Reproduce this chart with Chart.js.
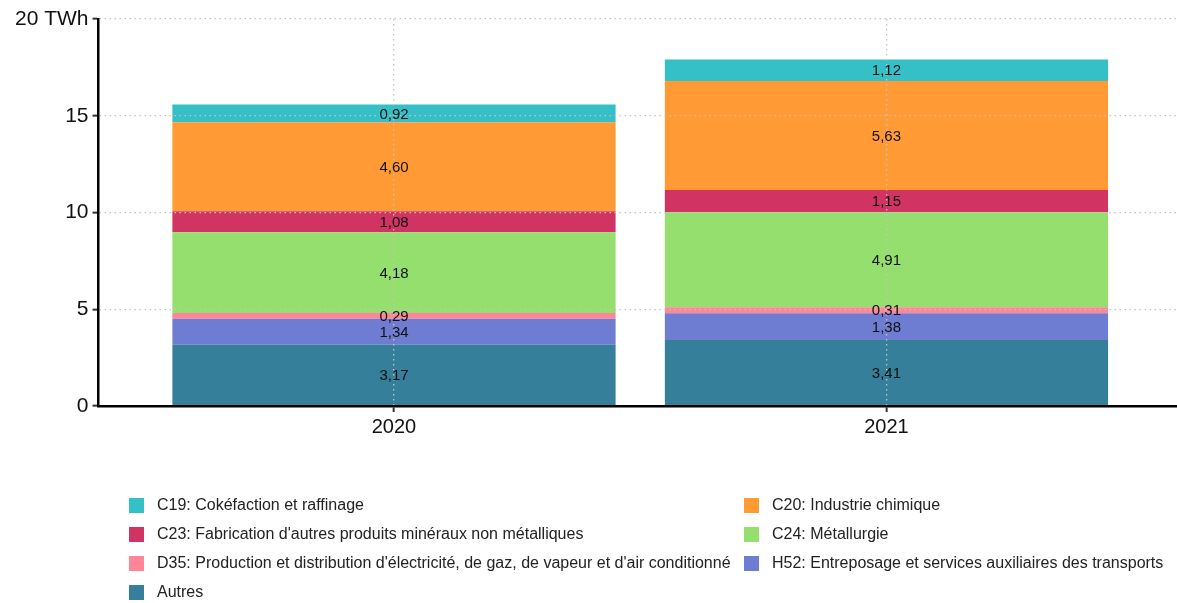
<!DOCTYPE html>
<html lang="fr">
<head>
<meta charset="utf-8">
<title>Consommation par secteur</title>
<script src="https://cdn.jsdelivr.net/npm/chart.js@4.4.1/dist/chart.umd.min.js"></script>
<style>
  body { margin: 0; background: #fff; }
  #wrap { position: relative; width: 1177px; height: 603px; }
  #legend { position: absolute; left: 129px; top: 496px; display: grid;
    grid-template-columns: 615px auto; row-gap: 11px;
    font-family: "Liberation Sans", Arial, sans-serif; font-size: 16px; color: #222; }
  .item { display: flex; align-items: center; height: 18px; white-space: nowrap; }
  .box { width: 15px; height: 15px; margin-right: 13px; flex: none; }
</style>
</head>
<body>
<div id="wrap">
  <canvas id="chart" width="1177" height="603"></canvas>
  <div id="legend"></div>
</div>
<script>
const years = ["2020", "2021"];
const yTicks = [0, 5, 10, 15, 20];

// stacked from the bottom up
const autres = [3.17, 3.41];
const h52 = [1.34, 1.38];
const d35 = [0.29, 0.31];
const c24 = [4.18, 4.91];
const c23 = [1.08, 1.15];
const c20 = [4.60, 5.63];
const c19 = [0.92, 1.12];

const series = [
  { label: "Autres", values: autres, color: "#357f9a" },
  { label: "H52: Entreposage et services auxiliaires des transports", values: h52, color: "#6e7cd2" },
  { label: "D35: Production et distribution d'électricité, de gaz, de vapeur et d'air conditionné", values: d35, color: "#ff8597" },
  { label: "C24: Métallurgie", values: c24, color: "#94df6e" },
  { label: "C23: Fabrication d'autres produits minéraux non métalliques", values: c23, color: "#d13462" },
  { label: "C20: Industrie chimique", values: c20, color: "#ff9a34" },
  { label: "C19: Cokéfaction et raffinage", values: c19, color: "#34c0c6" }
];

// order of the legend, row by row
const legendOrder = [
  "C19: Cokéfaction et raffinage",
  "C20: Industrie chimique",
  "C23: Fabrication d'autres produits minéraux non métalliques",
  "C24: Métallurgie",
  "D35: Production et distribution d'électricité, de gaz, de vapeur et d'air conditionné",
  "H52: Entreposage et services auxiliaires des transports",
  "Autres"
];

const fmt = v => v.toFixed(2).replace(".", ",");

const segmentLabels = {
  id: "segmentLabels",
  afterDraw(chart) {
    const ctx = chart.ctx;
    ctx.save();
    ctx.font = "15px 'Liberation Sans', Arial, sans-serif";
    ctx.fillStyle = "#111";
    ctx.textAlign = "center";
    ctx.textBaseline = "middle";
    chart.data.datasets.forEach((ds, i) => {
      chart.getDatasetMeta(i).data.forEach((bar, j) => {
        ctx.fillText(fmt(ds.data[j].y), bar.x, (bar.y + bar.base) / 2 + 1);
      });
    });
    ctx.restore();
  }
};

// grid over the bars, like the original; no dotted line on top of the x axis
const gridColor = ctx => (ctx.tick && ctx.tick.value === 0 && ctx.scale.axis === "y") ? "rgba(0,0,0,0)" : "#c4c4c4";
const gridStyle = { z: 1, color: gridColor, lineWidth: 1.3, tickColor: "#333", tickWidth: 2, tickLength: 6, offset: false };
const borderStyle = { z: 1, color: "#000", width: 2.5, dash: [1.5, 3.5] };

const chart = new Chart(document.getElementById("chart"), {
  type: "bar",
  data: {
    datasets: series.map(s => ({
      label: s.label,
      data: s.values.map((v, i) => ({ x: i, y: v })),
      backgroundColor: s.color,
      borderWidth: 0,
      barPercentage: 0.9,
      categoryPercentage: 1
    }))
  },
  options: {
    responsive: false,
    devicePixelRatio: 1,
    animation: false,
    layout: { padding: { left: 11, top: 19, right: 0, bottom: 161 } },
    plugins: { legend: { display: false }, tooltip: { enabled: false } },
    scales: {
      x: {
        type: "linear",
        offset: false,
        stacked: true,
        min: -0.6,
        max: 1.59,
        grid: gridStyle,
        border: borderStyle,
        ticks: {
          stepSize: 1,
          includeBounds: false,
          padding: 3,
          color: "#111",
          font: { family: "'Liberation Sans', Arial, sans-serif", size: 20 },
          callback: v => years[v] ?? ""
        }
      },
      y: {
        stacked: true,
        min: yTicks[0],
        max: yTicks[yTicks.length - 1],
        grid: gridStyle,
        border: borderStyle,
        afterBuildTicks: axis => { axis.ticks = yTicks.map(v => ({ value: v })); },
        ticks: {
          padding: 4,
          color: "#111",
          font: { family: "'Liberation Sans', Arial, sans-serif", size: 21 },
          callback: v => v === 20 ? "20 TWh" : String(v)
        }
      }
    }
  },
  plugins: [segmentLabels]
});

// legend built from the datasets
const legend = document.getElementById("legend");
legendOrder.forEach(name => {
  const s = series.find(x => x.label === name);
  const item = document.createElement("div");
  item.className = "item";
  item.innerHTML = `<span class="box" style="background:${s.color}"></span><span>${s.label}</span>`;
  legend.appendChild(item);
});
</script>
</body>
</html>
